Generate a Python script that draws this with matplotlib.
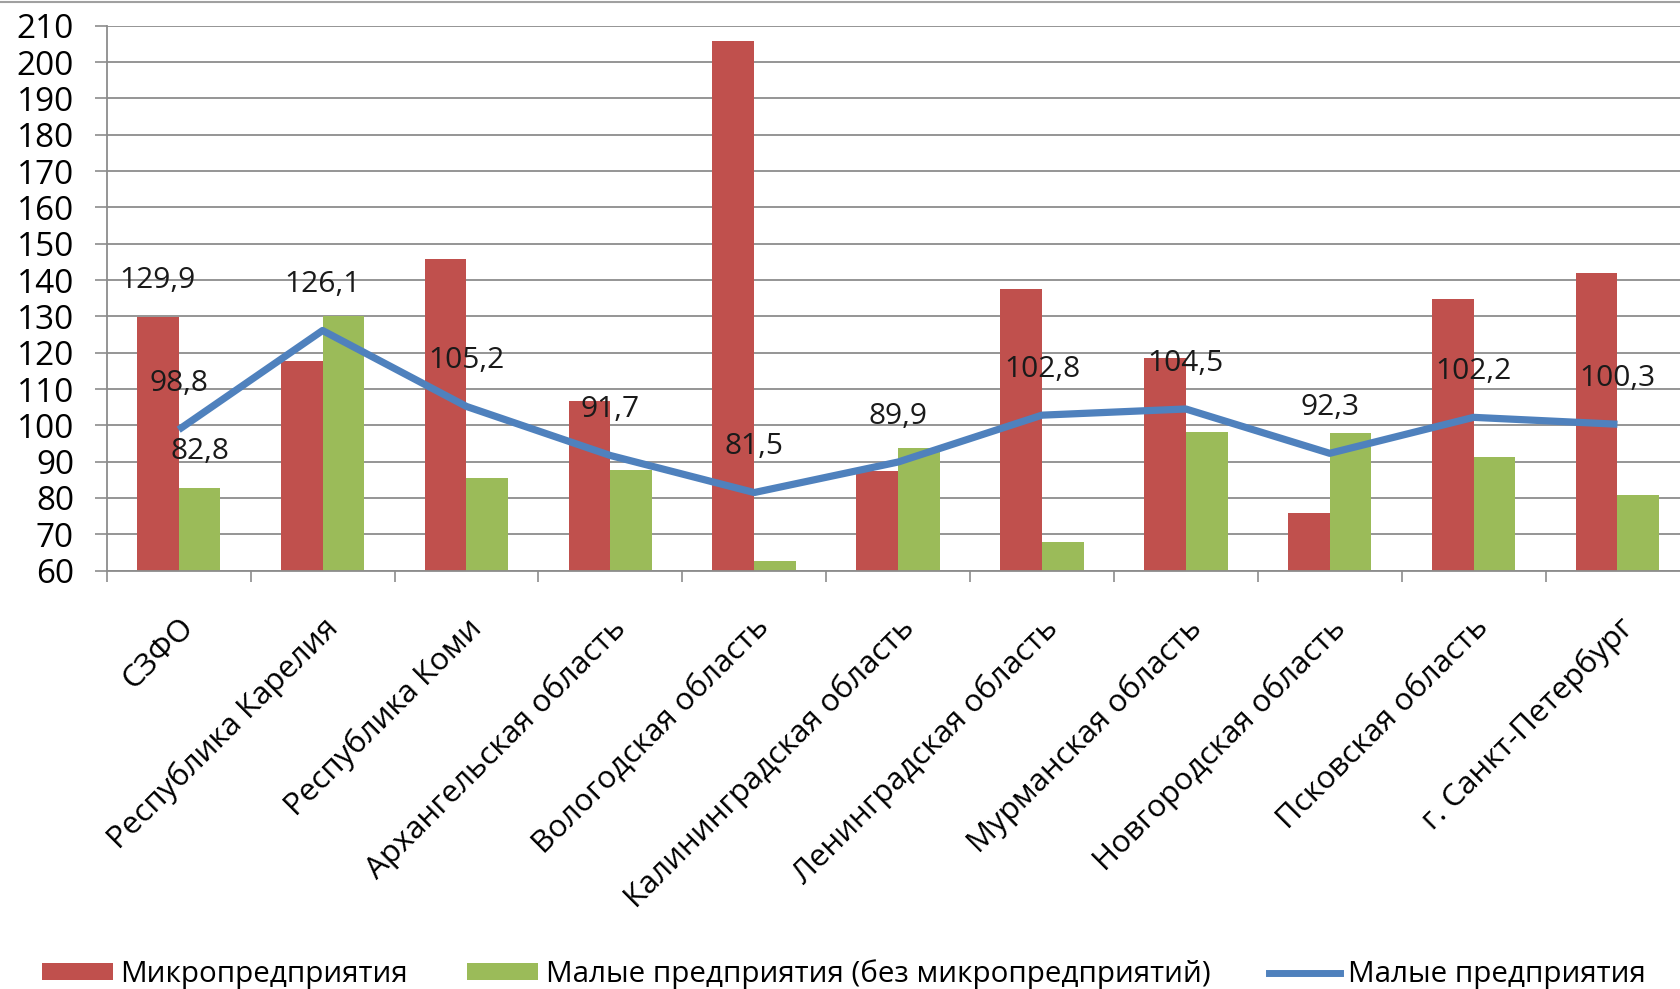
import matplotlib
matplotlib.use("Agg")
import matplotlib.pyplot as plt
import numpy as np
from matplotlib.lines import Line2D
from matplotlib.patches import Patch

plt.rcParams["font.family"] = ["Open Sans", "DejaVu Sans"]

regions = [
    "СЗФО", "Республика Карелия", "Республика Коми", "Архангельская область",
    "Вологодская область", "Калининградская область", "Ленинградская область",
    "Мурманская область", "Новгородская область", "Псковская область",
    "г. Санкт-Петербург",
]
micro = [129.9, 117.8, 145.9, 106.8, 205.7, 87.4, 137.6, 118.6, 75.8, 134.7, 141.9]
small_no_micro = [82.8, 130.0, 85.6, 87.8, 62.6, 93.7, 67.8, 98.2, 97.8, 91.4, 80.7]
small_total = [98.8, 126.1, 105.2, 91.7, 81.5, 89.9, 102.8, 104.5, 92.3, 102.2, 100.3]

RED = "#C0504D"
GREEN = "#9BBB59"
BLUE = "#4F81BD"
GRID = "#8C8C8C"


def fmt(v):
    return f"{v:.1f}".replace(".", ",")


fig = plt.figure(figsize=(16.81, 9.89), dpi=100)
ax = fig.add_axes([0.0635, 0.423, 0.9415, 0.551])

x = np.arange(len(regions))
w = 0.29
ax.bar(x - w / 2, micro, width=w, color=RED, zorder=2)
ax.bar(x + w / 2, small_no_micro, width=w, color=GREEN, zorder=2)
ax.plot(x, small_total, color=BLUE, linewidth=5.2, zorder=3, solid_capstyle="butt")

for xi, v in zip(x, small_total):
    ax.annotate(fmt(v), (xi, v), xytext=(0, 33), textcoords="offset points",
                ha="center", va="center", fontsize=21.5, color="#1a1a1a", zorder=4)

# подписи столбцов только для СЗФО
ax.annotate(fmt(micro[0]), (x[0] - w / 2, micro[0]), xytext=(0, 26),
            textcoords="offset points", ha="center", va="center", fontsize=21.5,
            color="#1a1a1a", zorder=4)
ax.annotate(fmt(small_no_micro[0]), (x[0] + w / 2, small_no_micro[0]), xytext=(0, 26),
            textcoords="offset points", ha="center", va="center", fontsize=21.5,
            color="#1a1a1a", zorder=4)

ax.set_xlim(-0.5, len(regions) - 0.5)
ax.set_ylim(60, 210)
ax.set_yticks(np.arange(60, 211, 10))
ax.yaxis.grid(True, color=GRID, linewidth=1.3, zorder=0)
ax.set_axisbelow(True)

ax.set_xticks(x)
ax.set_xticklabels(regions, rotation=45, ha="right", rotation_mode="anchor", fontsize=22.5)
ax.set_xticks(np.arange(-0.5, len(regions), 1), minor=True)
ax.tick_params(axis="x", which="major", length=0, pad=30)
ax.tick_params(axis="x", which="minor", length=8, width=1.2, color=GRID, direction="out")
ax.tick_params(axis="y", length=8.5, width=1.2, color=GRID, labelsize=24, pad=15)

for s in ("top", "right"):
    ax.spines[s].set_visible(False)
for s in ("left", "bottom"):
    ax.spines[s].set_color(GRID)
    ax.spines[s].set_linewidth(1.3)

handles = [
    Patch(facecolor=RED, edgecolor="none"),
    Patch(facecolor=GREEN, edgecolor="none"),
    Line2D([], [], color=BLUE, linewidth=5),
]
labels = ["Микропредприятия", "Малые предприятия (без микропредприятий)", "Малые предприятия"]
fig.legend(handles, labels, loc="lower left", bbox_to_anchor=(0.018, -0.012), ncol=3,
           frameon=False, fontsize=21.3, handlelength=2.4, handleheight=0.48,
           handletextpad=0.25, columnspacing=2.0, borderaxespad=0)

fig.add_artist(Line2D([0, 1], [0.998, 0.998], transform=fig.transFigure,
                      color="#A0A0A0", linewidth=1.5))

fig.savefig("out.png", dpi=100)
